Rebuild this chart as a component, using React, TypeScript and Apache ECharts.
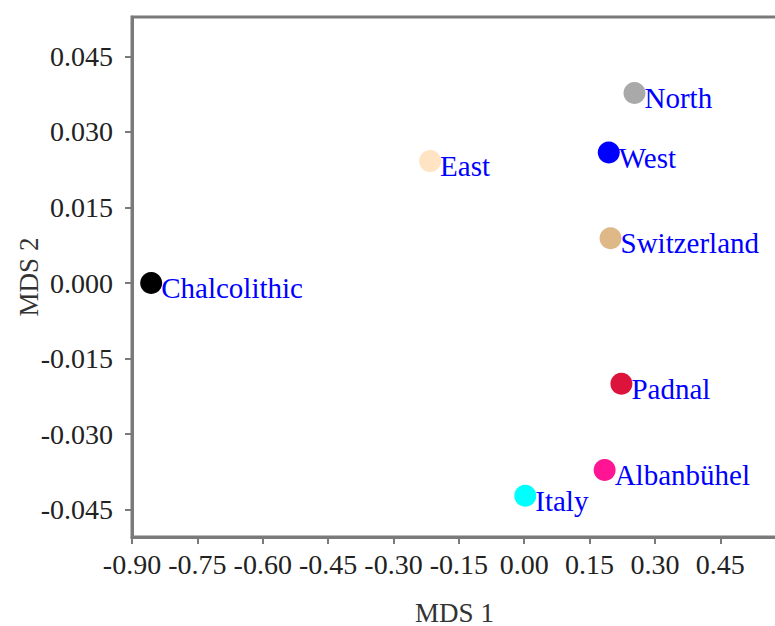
import React, { useEffect, useRef } from "react";
import * as echarts from "echarts";

const names = ["Chalcolithic", "East", "North", "West", "Switzerland", "Padnal", "Albanbühel", "Italy"];
const mds1 = [-0.856, -0.216, 0.253, 0.194, 0.198, 0.223, 0.1845, 0.0024];
const mds2 = [0.0, 0.0242, 0.0377, 0.0259, 0.0089, -0.02, -0.0371, -0.0422];
const colors = ["#000000", "#FFE4C4", "#A9A9A9", "#0000FF", "#DEB887", "#DC143C", "#FF1493", "#00FFFF"];
const xTicks = [-0.9, -0.75, -0.6, -0.45, -0.3, -0.15, 0.0, 0.15, 0.3, 0.45];
const yTicks = [-0.045, -0.03, -0.015, 0.0, 0.015, 0.03, 0.045];

const FONT = "'Liberation Serif', 'Times New Roman', serif";
const AXIS_COLOR = "#7a7a7a";

export default function App() {
  const ref = useRef<HTMLDivElement>(null);
  useEffect(() => {
    if (!ref.current) return;
    const chart = echarts.init(ref.current, undefined, { renderer: "svg" });
    chart.setOption({
      animation: false,
      backgroundColor: "#ffffff",
      grid: {
        left: 132,
        top: 17,
        right: 23,
        bottom: 89,
        show: true,
        borderColor: AXIS_COLOR,
        borderWidth: 3,
        containLabel: false,
        outerBoundsMode: "none",
      },
      xAxis: {
        type: "value",
        min: -0.9,
        max: 0.58,
        name: "MDS 1",
        nameLocation: "middle",
        nameGap: 62,
        nameMoveOverlap: false,
        nameTextStyle: { fontFamily: FONT, fontSize: 27, color: "#333" },
        axisLine: { show: true, onZero: false, lineStyle: { color: AXIS_COLOR, width: 3 } },
        axisTick: { show: true, length: 7, lineStyle: { color: AXIS_COLOR, width: 2 }, customValues: xTicks },
        axisLabel: {
          customValues: xTicks,
          formatter: (v: number) => v.toFixed(2),
          fontFamily: FONT,
          fontSize: 28,
          color: "#222",
          margin: 13,
        },
        splitLine: { show: false },
      },
      yAxis: {
        type: "value",
        min: -0.0504,
        max: 0.0528,
        name: "MDS 2",
        nameLocation: "middle",
        nameGap: 90,
        nameMoveOverlap: false,
        nameTextStyle: { fontFamily: FONT, fontSize: 27, color: "#333" },
        axisLine: { show: true, onZero: false, lineStyle: { color: AXIS_COLOR, width: 3 } },
        axisTick: { show: true, length: 7, lineStyle: { color: AXIS_COLOR, width: 2 }, customValues: yTicks },
        axisLabel: {
          customValues: yTicks,
          formatter: (v: number) => v.toFixed(3),
          fontFamily: FONT,
          fontSize: 28,
          color: "#222",
          margin: 19,
        },
        splitLine: { show: false },
      },
      series: [
        {
          type: "scatter",
          symbol: "circle",
          symbolSize: 22,
          data: names.map((n, i) => ({
            name: n,
            value: [mds1[i], mds2[i]],
            itemStyle: { color: colors[i], opacity: 1 },
          })),
          label: {
            show: true,
            formatter: (p: any) => p.name,
            position: [21, 16],
            align: "left",
            verticalAlign: "middle",
            fontFamily: FONT,
            fontSize: 29,
            color: "#0000FF",
          },
        },
      ],
    });
    return () => chart.dispose();
  }, []);
  return (
    <div style={{ position: "fixed", left: 0, top: 0, width: 775, height: 626, overflow: "hidden", background: "#fff" }}>
      <div ref={ref} style={{ width: 800, height: 626 }} />
    </div>
  );
}
